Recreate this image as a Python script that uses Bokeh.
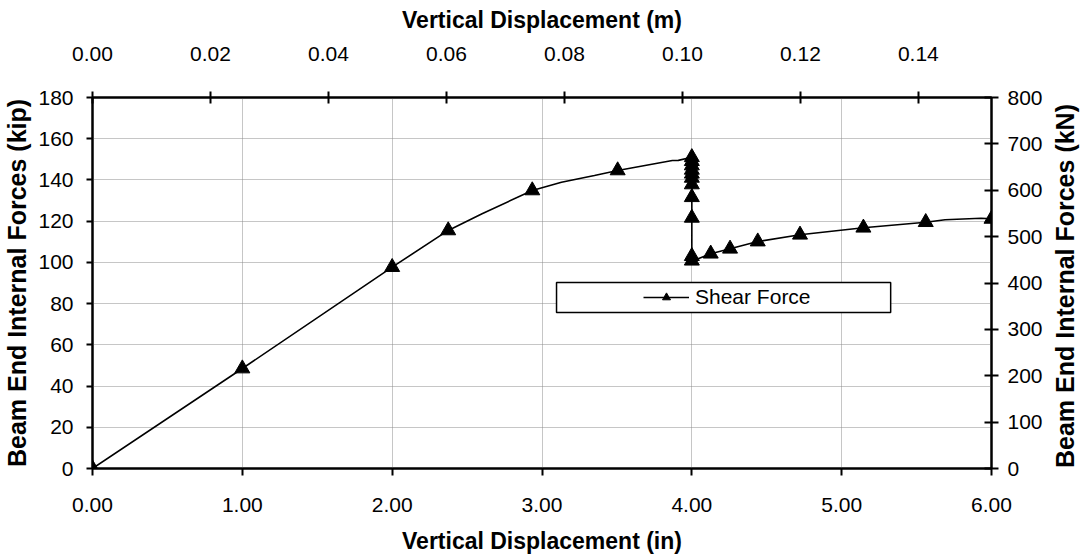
import math
from bokeh.plotting import figure
from bokeh.layouts import row
from bokeh.models import (Range1d, LinearAxis, FixedTicker, NumeralTickFormatter,
                          Legend, LegendItem, BoxAnnotation)
from bokeh.core.properties import value
from bokeh.embed import file_html
from bokeh.resources import INLINE

# ---- data ----
curve_disp_in = [0.0, 1.00, 2.00, 2.374, 2.60, 2.935, 3.13, 3.35, 3.505, 3.87, 3.91,
                 4.00, 4.00, 4.126, 4.255, 4.44, 4.722, 5.145, 5.561, 5.69, 5.93, 6.00]
curve_force_kip = [0.0, 48.5, 97.7, 115.5, 123.6, 134.9, 138.9, 142.2, 144.6, 149.4, 149.5,
                   151.0, 100.6, 104.2, 106.6, 110.1, 113.4, 116.8, 119.5, 120.7, 121.4, 121.1]

marker_disp_in = [0.0, 1.00, 2.00, 2.374, 2.935, 3.505,
                  4.00, 4.00, 4.00, 4.00, 4.00, 4.00, 4.00, 4.00, 4.00, 4.00, 4.00,
                  4.126, 4.255, 4.44, 4.722, 5.145, 5.561, 6.00]
marker_force_kip = [0.0, 48.5, 97.7, 115.5, 134.9, 144.6,
                    151.0, 149.1, 147.0, 144.9, 143.0, 141.0, 137.8, 131.6, 121.6, 103.0, 100.8,
                    104.2, 106.6, 110.1, 113.4, 116.8, 119.5, 121.1]

x_in_ticks = [0, 1, 2, 3, 4, 5, 6]
y_kip_ticks = [0, 20, 40, 60, 80, 100, 120, 140, 160, 180]
x_m_ticks = [0.00, 0.02, 0.04, 0.06, 0.08, 0.10, 0.12, 0.14]
y_kn_ticks = [0, 100, 200, 300, 400, 500, 600, 700, 800]

series_name = "Shear Force"
x_title_in = "Vertical Displacement (in)"
x_title_m = "Vertical Displacement (m)"
y_title_kip = "Beam End Internal Forces (kip)"
y_title_kn = "Beam End Internal Forces (kN)"

# ---- layout / style constants ----
FONT = "Liberation Sans"
TICK_SIZE = "21px"
TITLE_SIZE = "23px"
VTITLE_SIZE = "25px"
IN_TO_M = 0.0254
LEGEND_BOX = dict(left=3.097, right=5.327, bottom=75.7, top=90.2)
TOTAL_W, TOTAL_H = 1083, 556
SIDE_W = 33                     # strip holding the right-hand title
MAIN_W = TOTAL_W - SIDE_W
BORDER_L, BORDER_T, BORDER_B = 91, 97, 88
BORDER_R = MAIN_W - 991
TITLE_R_X = 0.4545              # fraction of the strip width
TITLE_R_Y = (TOTAL_H - (BORDER_T + (TOTAL_H - BORDER_T - BORDER_B) / 2)) / TOTAL_H

p = figure(width=MAIN_W, height=TOTAL_H, output_backend="svg", toolbar_location=None,
           x_range=Range1d(0, 6), y_range=Range1d(0, 180),
           min_border_left=BORDER_L, min_border_right=BORDER_R,
           min_border_top=BORDER_T, min_border_bottom=BORDER_B,
           background_fill_color="white", border_fill_color="white")
p.outline_line_color = "black"
p.outline_line_width = 2

p.extra_x_ranges = {"m": Range1d(0, 6 * IN_TO_M)}
p.extra_y_ranges = {"kN": Range1d(0, 800)}


def style_axis(ax, tick_out, tick_in, label_standoff, title_standoff, title_size=TITLE_SIZE):
    ax.axis_line_color = "black"
    ax.axis_line_width = 2
    ax.major_tick_line_color = "black"
    ax.major_tick_line_width = 2
    ax.major_tick_out = tick_out
    ax.major_tick_in = tick_in
    ax.minor_tick_out = 0
    ax.minor_tick_in = 0
    ax.minor_tick_line_color = None
    ax.major_label_text_font = FONT
    ax.major_label_text_font_size = TICK_SIZE
    ax.major_label_text_color = "black"
    ax.major_label_standoff = label_standoff
    ax.axis_label_text_font = FONT
    ax.axis_label_text_font_size = title_size
    ax.axis_label_text_font_style = "bold"
    ax.axis_label_text_color = "black"
    ax.axis_label_standoff = title_standoff


xb = p.xaxis[0]
xb.ticker = FixedTicker(ticks=x_in_ticks)
xb.formatter = NumeralTickFormatter(format="0.00")
xb.axis_label = x_title_in
style_axis(xb, 7, 0, 22, 13)

yl = p.yaxis[0]
yl.ticker = FixedTicker(ticks=y_kip_ticks)
yl.formatter = NumeralTickFormatter(format="0")
yl.axis_label = y_title_kip
style_axis(yl, 6, 0, 13, 4, VTITLE_SIZE)

xt = LinearAxis(x_range_name="m", ticker=FixedTicker(ticks=x_m_ticks),
                formatter=NumeralTickFormatter(format="0.00"), axis_label=x_title_m)
style_axis(xt, 6, 6, 31, 11)
p.add_layout(xt, "above")

yr = LinearAxis(y_range_name="kN", ticker=FixedTicker(ticks=y_kn_ticks),
                formatter=NumeralTickFormatter(format="0"))
style_axis(yr, 7, 7, 9, 12)
p.add_layout(yr, "right")

for g in (p.xgrid[0], p.ygrid[0]):
    g.grid_line_color = "#8c8c8c"
    g.grid_line_width = 1
    g.grid_line_dash = "1 1"

line_r = p.line(curve_disp_in, curve_force_kip, line_color="black", line_width=1.6)
mark_r = p.scatter(marker_disp_in, marker_force_kip, marker="triangle", size=15,
                   fill_color="black", line_color="black")

box = BoxAnnotation(left=LEGEND_BOX["left"], right=LEGEND_BOX["right"],
                    bottom=LEGEND_BOX["bottom"], top=LEGEND_BOX["top"],
                    fill_color="white", fill_alpha=1.0,
                    line_color="black", line_width=1.5, line_alpha=1.0)
p.add_layout(box)

legend = Legend(items=[LegendItem(label=series_name, renderers=[line_r, mark_r])],
                location=(546, 154), glyph_width=46, glyph_height=20, label_standoff=6,
                padding=5, margin=0, border_line_alpha=0, background_fill_alpha=0,
                label_text_font=FONT, label_text_font_size=TICK_SIZE,
                label_text_color="black")
p.add_layout(legend)

# narrow strip carrying the right-hand axis title (reads bottom to top)
q = figure(width=SIDE_W, height=TOTAL_H, output_backend="svg", toolbar_location=None,
           x_range=Range1d(0, 1), y_range=Range1d(0, 1),
           min_border_left=0, min_border_right=0, min_border_top=0, min_border_bottom=0,
           background_fill_color="white", border_fill_color="white")
q.axis.visible = False
q.grid.visible = False
q.outline_line_color = None
q.text(x=[TITLE_R_X], y=[TITLE_R_Y], text=[y_title_kn], angle=math.pi / 2,
       text_align="center", text_baseline="middle",
       text_font=value(FONT), text_font_size=value(VTITLE_SIZE), text_font_style="bold",
       text_color="black")

layout = row(p, q, spacing=0)
open("out.html", "w").write(file_html(layout, INLINE))
